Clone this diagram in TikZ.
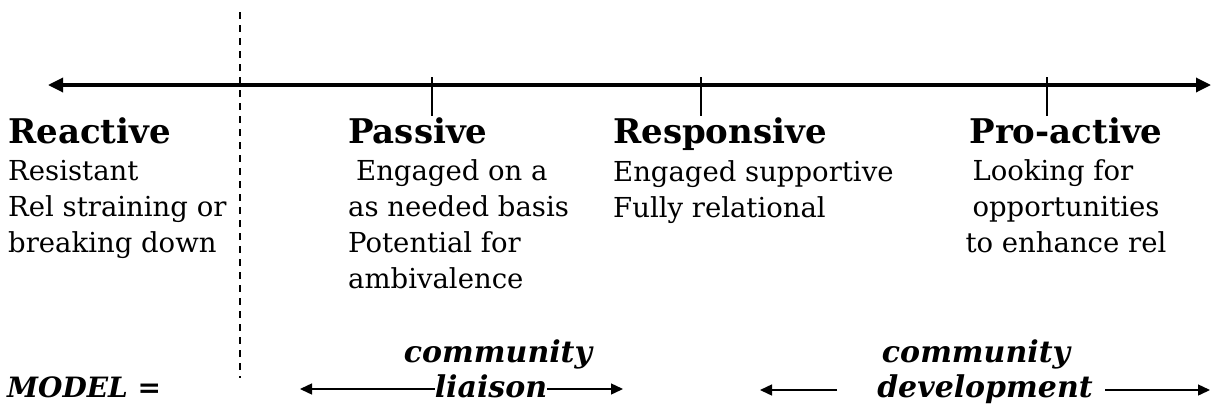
\documentclass[tikz,border=0pt]{standalone}
\usepackage{fontspec}
\setmainfont{DejaVu Serif}
\usetikzlibrary{arrows.meta}
\begin{document}
\begin{tikzpicture}[x=1pt,y=-1pt,
  head/.style={font=\fontsize{34}{40}\selectfont\bfseries, anchor=base west, inner sep=0},
  body/.style={font=\fontsize{27.5}{36}\selectfont, align=left, anchor=base west, inner sep=0},
  model/.style={font=\fontsize{30}{35}\selectfont\bfseries\itshape, anchor=base, inner sep=0},
  scalearrow/.style={line width=3.3pt, {Triangle[length=15pt,width=14pt]}-{Triangle[length=15pt,width=14pt]}},
  tick/.style={line width=1.3pt},
  divider/.style={line width=1.5pt, dash pattern=on 7pt off 6pt},
  modelarrow/.style={line width=1.4pt, -{Triangle[length=12pt,width=11pt]}}]
\useasboundingbox (0,0) rectangle (1213,405);
% the scale
\coordinate (sleft) at (48,85);
\coordinate (sright) at (1211,85);
\draw[scalearrow] (sleft) -- (sright);
\coordinate (tick1top) at (432,77);
\coordinate (tick1bot) at (432,116);
\coordinate (tick2top) at (701,77);
\coordinate (tick2bot) at (701,116);
\coordinate (tick3top) at (1047,77);
\coordinate (tick3bot) at (1047,116);
\draw[tick] (tick1top) -- (tick1bot);
\draw[tick] (tick2top) -- (tick2bot);
\draw[tick] (tick3top) -- (tick3bot);
\coordinate (dtop) at (240,12);
\coordinate (dbot) at (240,378);
\draw[divider] (dtop) -- (dbot);
% the four stances (body nodes sit on their last line)
\node[head] (reactive) at (8,143) {Reactive};
\node[body] (reactivetxt) at (8,252) {Resistant\\Rel straining or\\breaking down};
\node[head] (passive) at (348,143) {Passive};
\node[body] (passivetxt) at (348,288) {\hspace*{8pt}Engaged on a\\as needed basis\\Potential for\\ambivalence};
\node[head] (responsive) at (613,143) {Responsive};
\node[body] (responsivetxt) at (613,217) {Engaged supportive\\Fully relational};
\node[head, anchor=base] (proactive) at (1066,143) {Pro-active};
\node[body, align=center, anchor=base] (proactivetxt) at (1066,252) {Looking for\hspace*{26pt}\\opportunities\\to enhance rel};
% models
\node[model, anchor=base west, font=\fontsize{28}{35}\selectfont\bfseries\itshape] (model) at (7,397) {MODEL =};
\node[model] (comm1) at (498,362) {community};
\node[model] (liaison) at (491,397) {liaison};
\node[model] (comm2) at (976,362) {community};
\node[model] (devel) at (985,397) {development};
\coordinate (lial) at (300,389);
\coordinate (liar) at (623,389);
\draw[modelarrow] (lial -| liaison.west) -- (lial);
\draw[modelarrow] (liar -| liaison.east) -- (liar);
\coordinate (devl) at (760,390);
\coordinate (devlin) at (837,390);
\coordinate (devrin) at (1105,390);
\coordinate (devr) at (1210,390);
\draw[modelarrow] (devlin) -- (devl);
\draw[modelarrow] (devrin) -- (devr);
\end{tikzpicture}
\end{document}
